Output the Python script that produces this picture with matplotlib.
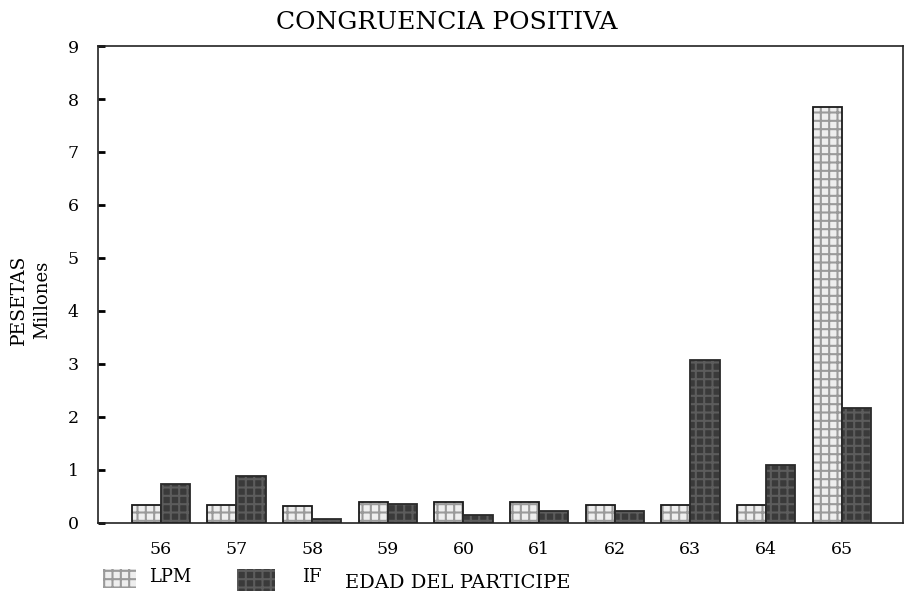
import matplotlib
matplotlib.use("Agg")
import matplotlib.pyplot as plt
import numpy as np
from matplotlib.patches import Rectangle

plt.rcParams['font.family'] = ['DejaVu Serif', 'Liberation Serif']
plt.rcParams['hatch.linewidth'] = 1.5

ages = ["56", "57", "58", "59", "60", "61", "62", "63", "64", "65"]
lpm = [0.34, 0.34, 0.32, 0.40, 0.40, 0.40, 0.34, 0.34, 0.34, 7.85]
inf = [0.74, 0.89, 0.07, 0.36, 0.15, 0.22, 0.22, 3.07, 1.10, 2.17]
yticks = list(range(0, 10))

LPM_FACE, LPM_HATCH = "#eeeeee", "#9a9a9a"
IF_FACE, IF_HATCH = "#3a3a3a", "#5c5c5c"

fig = plt.figure(figsize=(9.05, 5.99), dpi=100)
ax = fig.add_axes([0.1083, 0.1269, 0.8895, 0.7963])

x = np.arange(len(ages))
w = 0.385


def textured_bars(xpos, vals, face, hatch_col, edge):
    ax.bar(xpos, vals, width=w, facecolor=face, edgecolor=hatch_col,
           hatch="++", linewidth=0)
    ax.bar(xpos, vals, width=w, facecolor="none", edgecolor=edge, linewidth=1.3)


textured_bars(x - w / 2, lpm, LPM_FACE, LPM_HATCH, "#1a1a1a")
textured_bars(x + w / 2, inf, IF_FACE, IF_HATCH, "#2a2a2a")

ax.set_xlim(-0.83, 9.81)
ax.set_ylim(0, 9)
ax.set_yticks(yticks)
ax.set_yticklabels([str(t) for t in yticks], fontsize=12.5)
ax.tick_params(axis="y", direction="in", length=5, width=2, pad=14)
ax.set_xticks(x)
ax.set_xticklabels(ages, fontsize=12.5)
ax.tick_params(axis="x", length=0, pad=13)
for s in ax.spines.values():
    s.set_linewidth(1.2)
    s.set_color("#222222")

fig.text(0.494, 0.963, "CONGRUENCIA POSITIVA", ha="center", va="center", fontsize=18)
fig.text(0.021, 0.50, "PESETAS", rotation=90, ha="center", va="center", fontsize=13.5)
fig.text(0.047, 0.50, "Millones", rotation=90, ha="center", va="center", fontsize=13)

# bottom legend row with the x-axis title
legend_items = [
    ((0.114, 0.018), 0.036, 0.032, LPM_FACE, LPM_HATCH),
    ((0.262, 0.014), 0.042, 0.036, IF_FACE, IF_HATCH),
]
for xy, pw, ph, face, hc in legend_items:
    fig.patches.append(Rectangle(xy, pw, ph, transform=fig.transFigure,
                                 facecolor=face, edgecolor=hc, hatch="++", linewidth=0))
fig.text(0.188, 0.036, "LPM", ha="center", va="center", fontsize=13)
fig.text(0.345, 0.036, "IF", ha="center", va="center", fontsize=13)
fig.text(0.381, 0.026, "EDAD DEL PARTICIPE", ha="left", va="center", fontsize=14)

fig.savefig("out.png", dpi=100)
